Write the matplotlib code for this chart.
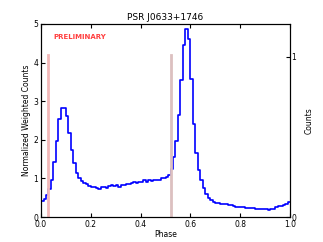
import numpy as np
import matplotlib
matplotlib.use('Agg')
import matplotlib.pyplot as plt

# Phase histogram (bin left edges, 100 bins)
phase_edges = np.linspace(0.0, 1.0, 101)
weighted_counts = [
    0.42, 0.47, 0.57, 0.72, 0.97, 1.42, 1.98, 2.55, 2.82, 2.82,
    2.62, 2.17, 1.73, 1.40, 1.15, 1.00, 0.93, 0.88, 0.85, 0.80,
    0.77, 0.79, 0.76, 0.73, 0.77, 0.79, 0.76, 0.80, 0.82, 0.80,
    0.82, 0.78, 0.84, 0.83, 0.85, 0.85, 0.87, 0.90, 0.88, 0.90,
    0.91, 0.95, 0.92, 0.95, 0.93, 0.95, 0.97, 0.96, 1.00, 1.02,
    1.04, 1.08, 1.25, 1.55, 1.97, 2.65, 3.55, 4.45, 4.87, 4.62,
    3.58, 2.42, 1.67, 1.22, 0.95, 0.75, 0.60, 0.50, 0.43, 0.38,
    0.36, 0.36, 0.35, 0.33, 0.33, 0.31, 0.30, 0.28, 0.27, 0.26,
    0.25, 0.25, 0.24, 0.23, 0.23, 0.23, 0.22, 0.21, 0.22, 0.20,
    0.21, 0.19, 0.20, 0.22, 0.25, 0.28, 0.29, 0.31, 0.33, 0.38,
]

# Marker lines (phase, height, colour)
marker_phases = [0.03, 0.52]
marker_height = 4.2
marker_colors = ['#f2b8b8', '#dcc0c0']

fig = plt.figure(figsize=(3.23, 2.42), dpi=100)
ax = fig.add_axes([0.127, 0.103, 0.771, 0.798])

vals = np.append(weighted_counts, weighted_counts[-1])
ax.step(phase_edges, vals, where='post', color='b', lw=1.2)

for p, c in zip(marker_phases, marker_colors):
    ax.plot([p, p], [0, marker_height], color=c, lw=2)

ax.text(0.05, 4.6, 'PRELIMINARY', color='#ff4040', fontsize=5, fontweight='bold')

ax.set_xlim(0, 1)
ax.set_ylim(0, 5)
ax.set_xticks([0.0, 0.2, 0.4, 0.6, 0.8, 1.0])
ax.set_xticklabels(['0.0', '0.2', '0.4', '0.6', '0.8', '1.0'])
ax.set_yticks([0, 1, 2, 3, 4, 5])
ax.tick_params(direction='in', labelsize=5.5, length=3, top=True, pad=2)
ax.tick_params(axis='y', right=False)
ax.set_xlabel('Phase', fontsize=5.5, labelpad=1)
ax.set_ylabel('Normalized Weighted Counts', fontsize=5.5, labelpad=2)
ax.set_title('PSR J0633+1746', fontsize=6.5, pad=3)

ax2 = ax.twinx()
ax2.set_ylim(0, 1.204)
ax2.set_yticks([0, 1])
ax2.tick_params(direction='in', labelsize=5.5, length=3, pad=1)
ax2.set_ylabel('Counts', fontsize=5.5, labelpad=6)

fig.savefig('out.png', dpi=100)
